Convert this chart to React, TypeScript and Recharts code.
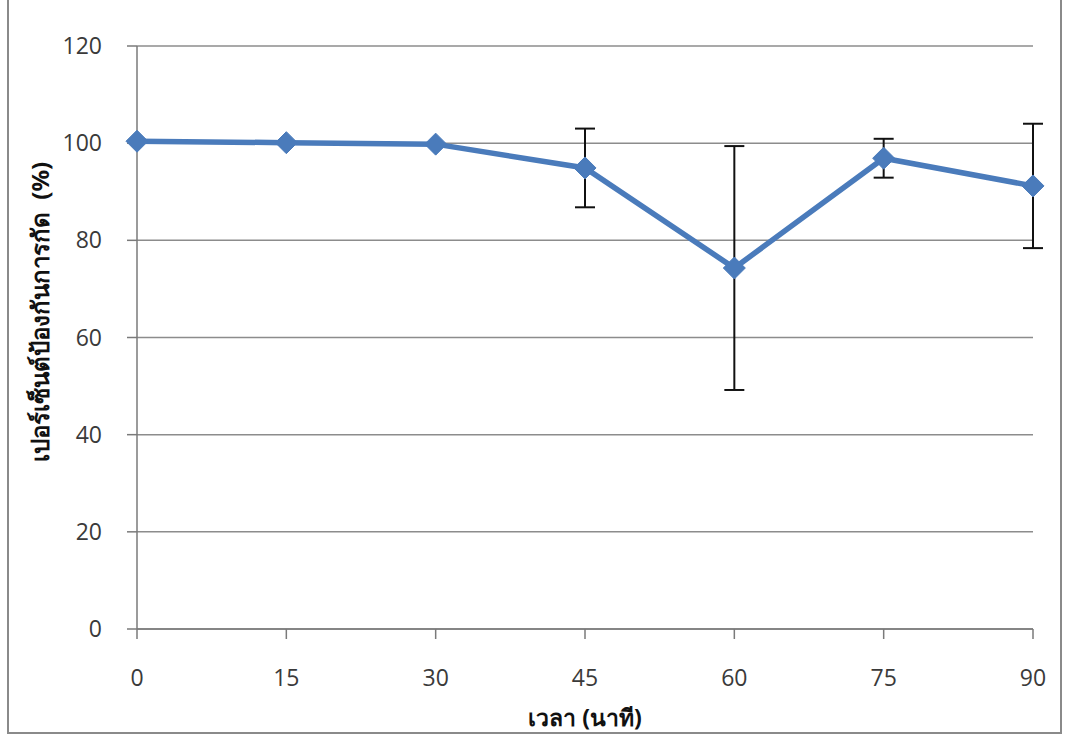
import React from "react";
import { LineChart, Line, XAxis, YAxis, CartesianGrid, ErrorBar } from "recharts";

// time in minutes
const minutes = [0, 15, 30, 45, 60, 75, 90];
// percent bite protection
const protection = [100.4, 100.1, 99.8, 94.9, 74.3, 96.9, 91.2];
// standard deviation (error bars)
const deviation = [0, 0, 0, 8.1, 25.1, 4.0, 12.8];

const yTicks = [0, 20, 40, 60, 80, 100, 120];

const data = minutes.map((m, i) => ({
  time: m,
  value: protection[i],
  err: deviation[i],
}));

const tickStyle = { fill: "#3a3a3a", fontSize: 23, fontFamily: "'Open Sans', 'Noto Sans', sans-serif" };
const BLUE = "#4a7bbb";

function Diamond(props: any) {
  const { cx, cy } = props;
  if (cx == null || cy == null) return null;
  const r = 11;
  return (
    <path
      d={`M${cx},${cy - r} L${cx + r},${cy} L${cx},${cy + r} L${cx - r},${cy} Z`}
      fill={BLUE}
      stroke={BLUE}
    />
  );
}

function YTitle() {
  return (
    <text
      x={42}
      y={312}
      transform="rotate(-90 42 312)"
      textAnchor="middle"
      dominantBaseline="middle"
      fontSize={24}
      fontWeight="bold"
      fill="#111"
      fontFamily="'Noto Sans', 'DejaVu Sans', sans-serif"
      style={{ whiteSpace: "pre" }}
    >
      {"เปอร์เซ็นต์ป้องกันการกัด  (%)"}
    </text>
  );
}

export default function App() {
  return (
    <div style={{ position: "absolute", left: 0, top: 0, width: 1066, height: 740, background: "#fff" }}>
      <div
        style={{
          position: "absolute",
          left: 7,
          top: -2,
          width: 1055,
          height: 736,
          borderLeft: "2px solid #8a8a8a",
          borderRight: "2px solid #8a8a8a",
          borderBottom: "2px solid #8a8a8a",
          boxSizing: "border-box",
        }}
      />
      <LineChart
        width={1066}
        height={740}
        data={data}
        margin={{ top: 46, right: 33, bottom: 51, left: 0 }}
        style={{ position: "absolute", left: 0, top: 0 }}
      >
        <CartesianGrid vertical={false} stroke="#8c8c8c" strokeWidth={1.5} />
        <XAxis
          dataKey="time"
          type="number"
          domain={[0, 90]}
          ticks={minutes}
          height={60}
          tick={tickStyle}
          tickSize={10}
          tickMargin={31}
          stroke="#7a7a7a"
          strokeWidth={1.5}
          label={{
            value: "เวลา (นาที)",
            position: "insideBottom",
            offset: -37,
            fill: "#111",
            fontSize: 23,
            fontWeight: "bold",
            fontFamily: "'Noto Sans', 'DejaVu Sans', sans-serif",
          }}
        />
        <YAxis
          type="number"
          domain={[0, 120]}
          ticks={yTicks}
          width={137}
          tick={tickStyle}
          tickSize={10}
          tickMargin={25}
          stroke="#7a7a7a"
          strokeWidth={1.5}
          label={<YTitle />}
        />
        <Line
          type="linear"
          dataKey="value"
          stroke={BLUE}
          strokeWidth={5.5}
          dot={<Diamond />}
          activeDot={false}
          isAnimationActive={false}
        >
          <ErrorBar dataKey="err" width={10} stroke="#111" strokeWidth={2} direction="y" />
        </Line>
      </LineChart>
    </div>
  );
}
